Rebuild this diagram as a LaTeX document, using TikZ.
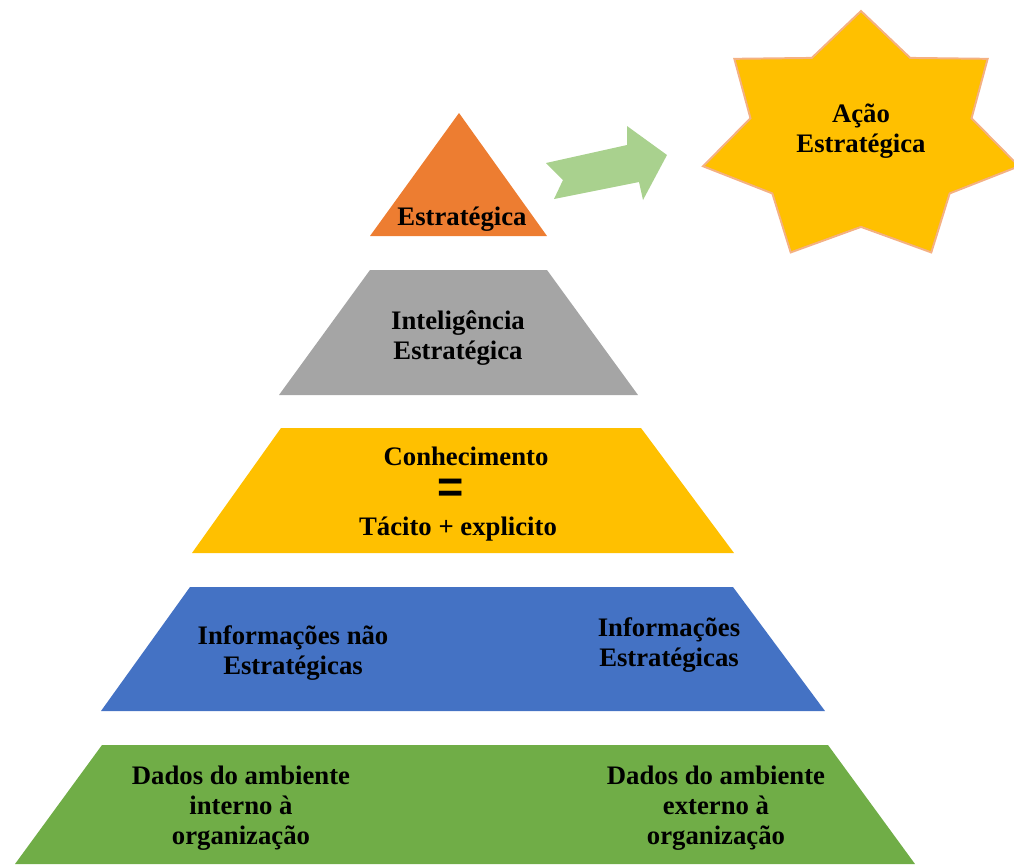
\documentclass[tikz,border=0pt]{standalone}
\usepackage{fontspec}
\setmainfont{Liberation Serif}
\newfontfamily\eqfont{Liberation Sans}

\definecolor{topc}{HTML}{ED7D31}
\definecolor{greyc}{HTML}{A5A5A5}
\definecolor{goldc}{HTML}{FFC000}
\definecolor{bluec}{HTML}{4472C4}
\definecolor{greenc}{HTML}{70AD47}
\definecolor{arrowc}{HTML}{A9D18E}
\definecolor{starline}{HTML}{F4B183}

\tikzset{
  lbl/.style={font=\fontsize{19}{21.3}\selectfont\bfseries, align=center, inner sep=0pt},
}

\begin{document}
\begin{tikzpicture}[x=0.025cm, y=-0.025cm]
\useasboundingbox (0,0) rectangle (1014,864);
\clip (0,0) rectangle (1014,864);

% pyramid, top to bottom
\fill[topc] (459,113) -- (547,236) -- (370,236) -- cycle;
\fill[greyc] (370,270) -- (547,270) -- (638,395) -- (279,395) -- cycle;
\fill[goldc] (281,428) -- (641,428) -- (734,553) -- (192,553) -- cycle;
\fill[bluec] (190,587) -- (733,587) -- (825,711) -- (101,711) -- cycle;
\fill[greenc] (102,745) -- (828,745) -- (915,864) -- (15,864) -- cycle;

% notched block arrow
\fill[arrowc] (546,163) -- (627,145) -- (627,126) -- (667,155) -- (643,200)
  -- (639,182) -- (554,199) -- (563,180) -- cycle;

% seven point star
\draw[fill=goldc, draw=starline, line width=1.4pt, line join=miter]
  (861,11) \foreach \k [evaluate=\k as \r using {mod(\k,2)==0 ? 1 : 0.7}] in {1,...,13}
  { -- ({861+162*\r*sin(\k*180/7)}, {138-127*\r*cos(\k*180/7)}) } -- cycle;

\node[lbl] (acao) at (861,131) {Ação\\Estratégica};

\node[lbl] (estrat) at (462,219) {Estratégica};
\node[lbl] (intel) at (458,338) {Inteligência\\Estratégica};
\node[lbl] (conhec) at (466,456) {Conhecimento};
\node[font=\eqfont\fontsize{32}{32}\selectfont\bfseries, inner sep=0pt] (igual) at (451,491) {=};
\node[lbl] (tacito) at (458,529) {Tácito + explicito};
\node[lbl] (infnao) at (293,653) {Informações não\\Estratégicas};
\node[lbl] (infest) at (669,645) {Informações\\Estratégicas};
\node[lbl] (dadint) at (241,808) {Dados do ambiente\\interno à\\organização};
\node[lbl] (dadext) at (716,808) {Dados do ambiente\\externo à\\organização};
\end{tikzpicture}
\end{document}
